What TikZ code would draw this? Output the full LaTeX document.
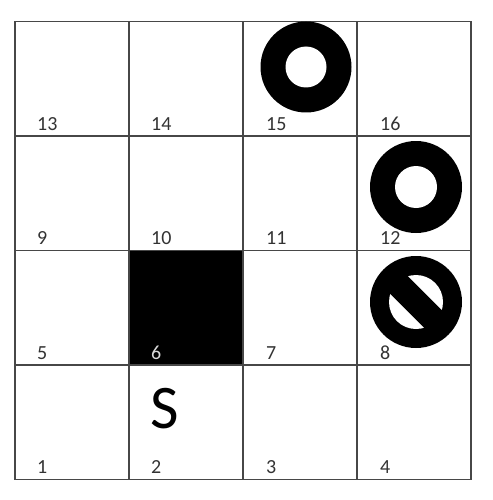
\documentclass[tikz,border=0pt]{standalone}
\usepackage{fontspec}
\setmainfont{Carlito}
\begin{document}
\begin{tikzpicture}[x=1pt,y=-1pt,
  gridline/.style={draw=black!72,line width=1.3pt},
  lbl/.style={anchor=base west,inner sep=0pt,text=black!80,font=\fontsize{20}{24}\selectfont},
  ring/.style={fill=black}]
\useasboundingbox (0,0) rectangle (492,500);
% blocked cell 6
\fill[black] (129,250.5) rectangle (243,365);
% grid
\foreach \x in {15,129,243,357,471} \draw[gridline] (\x,21.5) -- (\x,479.5);
\foreach \y in {21.5,136,250.5,365,479.5} \draw[gridline] (15,\y) -- (471,\y);
% rings
\fill[black] (306,67) circle[radius=45.5];
\fill[white] (306,67) circle[radius=20.5];
\fill[black] (416,187) circle[radius=46];
\fill[white] (416,187) circle[radius=21];
\fill[black] (416,302) circle[radius=46];
\fill[white] (416,302) circle[radius=27];
\draw[black,line width=25pt] (395,281) -- (437,323);
% labels
\node[lbl] (l13) at (37,130) {13};
\node[lbl] (l14) at (151,130) {14};
\node[lbl] (l15) at (266,130) {15};
\node[lbl] (l16) at (380,130) {16};
\node[lbl] (l9) at (37,244) {9};
\node[lbl] (l10) at (151,244) {10};
\node[lbl] (l11) at (266,244) {11};
\node[lbl] (l12) at (380,244) {12};
\node[lbl] (l5) at (37,359) {5};
\node[lbl,text=black!15] (l6) at (151,359) {6};
\node[lbl] (l7) at (266,359) {7};
\node[lbl] (l8) at (380,359) {8};
\node[lbl] (l1) at (37,473) {1};
\node[lbl] (l2) at (151,473) {2};
\node[lbl] (l3) at (266,473) {3};
\node[lbl] (l4) at (380,473) {4};
\node[anchor=base west,inner sep=0pt,font=\fontsize{62}{70}\selectfont] (s) at (150,428) {S};
\end{tikzpicture}
\end{document}
